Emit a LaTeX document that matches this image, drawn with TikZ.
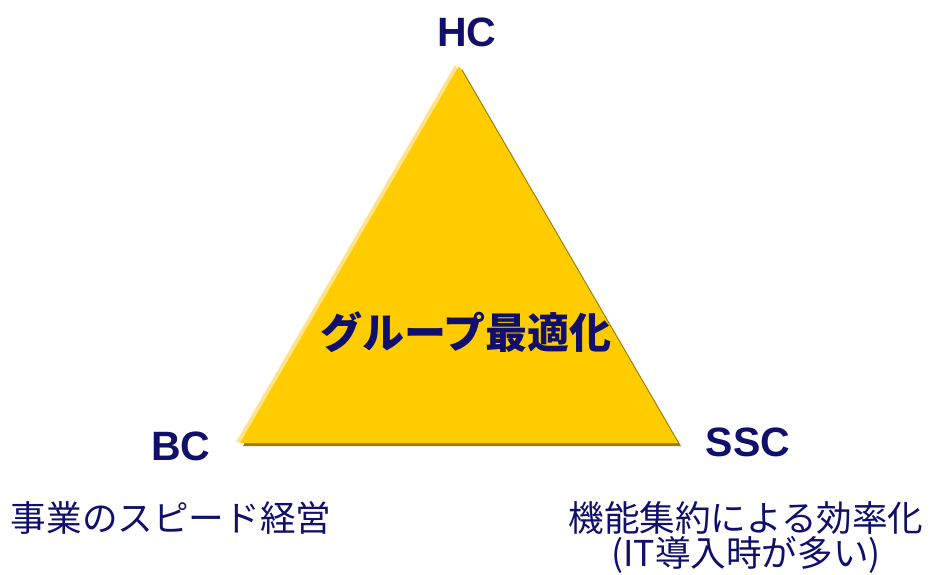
\documentclass[tikz,border=0pt]{standalone}
\usepackage{fontspec}
\setmainfont{Liberation Sans}
\newfontfamily\jp{Noto Sans CJK JP}
\definecolor{navy}{HTML}{10106C}
\definecolor{gold}{HTML}{FFCC00}
\definecolor{goldlight}{HTML}{FFE38A}
\definecolor{goldshadow}{HTML}{9C7C00}
\tikzset{
  vlabel/.style={font=\fontsize{41}{41}\selectfont\bfseries, text=navy, inner sep=0pt},
  jtext/.style={font=\fontsize{35.6}{38}\selectfont\jp, text=navy, inner sep=0pt, align=center},
  jbold/.style={font=\fontsize{42}{42}\selectfont\jp\bfseries, text=navy, inner sep=0pt}
}
\begin{document}
\begin{tikzpicture}[x=1pt,y=-1pt]
\useasboundingbox (0,0) rectangle (931,575);
% triangle corners
\coordinate (top) at (459,66);
\coordinate (bl) at (240,443);
\coordinate (br) at (678,443);
% shadow
\fill[goldshadow] ([shift={(3,3)}]top) -- ([shift={(3,3)}]br) -- ([shift={(3,3)}]bl) -- cycle;
% highlight
\fill[goldlight] ([shift={(-4,-1)}]top) -- ([shift={(-4,-1)}]br) -- ([shift={(-4,-1)}]bl) -- cycle;
% main
\fill[gold] (top) -- (br) -- (bl) -- cycle;
\node[vlabel] (hc) at (467,32) {HC};
\node[vlabel] (bc) at (181,446) {BC};
\node[vlabel] (ssc) at (748,442) {SSC};
\node[jbold] (center) at (466,332) {グループ最適化};
\node[jtext] (bctext) at (171,518) {事業のスピード経営};
\node[jtext] (ssctext1) at (746,518) {機能集約による効率化};
\node[jtext] (ssctext2) at (746,555) {(IT導入時が多い)};
\end{tikzpicture}
\end{document}
